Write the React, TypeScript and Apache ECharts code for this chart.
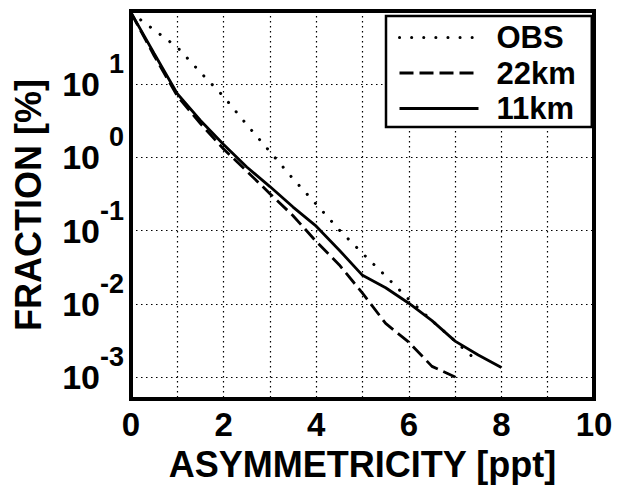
import React, { useEffect, useRef } from 'react';
import * as echarts from 'echarts';

// Asymmetricity [ppt] sample points
const asymObs = [0, 0.5, 1, 1.5, 2, 2.5, 3, 3.5, 4, 4.5, 5, 5.5, 6, 6.5, 7, 7.5];
const asym22 = [0, 0.5, 1, 1.5, 2, 2.5, 3, 3.5, 4, 4.5, 5, 5.5, 6, 6.5, 7];
const asym11 = [0, 0.5, 1, 1.5, 2, 2.5, 3, 3.5, 4, 4.5, 5, 5.5, 6, 6.5, 7, 7.5, 8];

// Fraction [%]
const fracObs = [95, 55, 32, 14.5, 6.8, 2.8, 1.2, 0.51, 0.23, 0.102, 0.049, 0.024, 0.0115, 0.0059, 0.0031, 0.0016];
const frac22 = [95, 24.5, 6.9, 2.9, 1.3, 0.65, 0.32, 0.16, 0.071, 0.034, 0.014, 0.0054, 0.003, 0.0014, 0.001];
const frac11 = [95, 26.3, 7.4, 3.2, 1.5, 0.74, 0.4, 0.21, 0.115, 0.054, 0.0245, 0.0166, 0.0102, 0.0059, 0.0031, 0.002, 0.00135];

const seriesNames = ['OBS', '22km', '11km'];
const xTickLabels = [0, 2, 4, 6, 8, 10];
const yExponents = [-3, -2, -1, 0, 1];

const FONT = "'Liberation Sans', Arial, Helvetica, sans-serif";

const zip = (xs: number[], ys: number[]) => xs.map((x, i) => [x, ys[i]]);

const lineStyles = [
  { color: '#000', width: 3, type: [0.1, 12], cap: 'round' },
  { color: '#000', width: 2.8, type: [14, 6] },
  { color: '#000', width: 2.8, type: 'solid' },
];

export default function App() {
  const ref = useRef<HTMLDivElement>(null);
  useEffect(() => {
    if (!ref.current) return;
    const chart = echarts.init(ref.current, undefined, { renderer: 'svg' });
    const lineBase = { type: 'line', symbol: 'none', smooth: false, clip: true, itemStyle: { color: '#000' } };
    chart.setOption({
      animation: false,
      backgroundColor: '#fff',
      textStyle: { fontFamily: FONT },
      grid: {
        left: 131,
        right: 23,
        top: 11,
        bottom: 83,
        show: true,
        borderColor: '#000',
        borderWidth: 4,
        backgroundColor: 'transparent',
      },
      legend: {
        show: true,
        orient: 'vertical',
        left: 386,
        top: 16,
        data: seriesNames.map((name, i) => ({ name, lineStyle: { ...lineStyles[i] } })),
        selectedMode: false,
        itemWidth: 79,
        itemHeight: 14,
        itemGap: 4.5,
        padding: [6, 16, 3, 12],
        backgroundColor: '#fff',
        borderColor: '#000',
        borderWidth: 2.5,
        borderRadius: 0,
        itemStyle: { opacity: 0 },
        lineStyle: { width: 3, color: '#000' },
        textStyle: {
          fontFamily: FONT,
          fontWeight: 'bold',
          fontSize: 31,
          lineHeight: 31,
          color: '#000',
          padding: [0, 0, 0, 13],
        },
      },
      xAxis: {
        type: 'value',
        min: 0,
        max: 10,
        interval: 1,
        name: 'ASYMMETRICITY [ppt]',
        nameLocation: 'middle',
        nameGap: 42,
        nameTextStyle: { fontFamily: FONT, fontWeight: 'bold', fontSize: 36, color: '#000' },
        axisLine: { show: false },
        axisTick: { show: false },
        axisLabel: {
          margin: 9,
          fontFamily: FONT,
          fontWeight: 'bold',
          fontSize: 33,
          color: '#000',
          formatter: (v: number) => (xTickLabels.includes(v) ? String(v) : ''),
        },
        splitLine: { show: true, lineStyle: { color: '#000', width: 1.2, type: [1.5, 3.5] } },
      },
      yAxis: {
        type: 'log',
        logBase: 10,
        min: 0.0005,
        max: 100,
        name: 'FRACTION [%]',
        nameLocation: 'middle',
        nameGap: 85,
        nameRotate: 90,
        nameTextStyle: { fontFamily: FONT, fontWeight: 'bold', fontSize: 36, color: '#000' },
        axisLine: { show: false },
        axisTick: { show: false },
        axisLabel: {
          margin: 7,
          showMinLabel: false,
          showMaxLabel: false,
          color: '#000',
          formatter: (v: number) => {
            const lg = Math.log10(v);
            const e = Math.round(lg);
            if (Math.abs(lg - e) > 1e-6 || !yExponents.includes(e)) return '';
            return `{b|10}{e|${e}}`;
          },
          rich: {
            b: { fontFamily: FONT, fontWeight: 'bold', fontSize: 34, lineHeight: 34, color: '#000' },
            e: {
              fontFamily: FONT,
              fontWeight: 'bold',
              fontSize: 27,
              lineHeight: 27,
              width: 24,
              align: 'right',
              padding: [0, 0, 40, 0],
              color: '#000',
            },
          },
        },
        splitLine: { show: true, lineStyle: { color: '#000', width: 1.2, type: [1.5, 3.5] } },
      },
      series: [
        { ...lineBase, name: seriesNames[0], data: zip(asymObs, fracObs), lineStyle: lineStyles[0] },
        { ...lineBase, name: seriesNames[1], data: zip(asym22, frac22), lineStyle: lineStyles[1] },
        { ...lineBase, name: seriesNames[2], data: zip(asym11, frac11), lineStyle: lineStyles[2] },
      ],
    });
    return () => chart.dispose();
  }, []);
  return (
    <div
      ref={ref}
      style={{ position: 'fixed', left: 0, top: 0, width: 617, height: 487, background: '#fff' }}
    />
  );
}
